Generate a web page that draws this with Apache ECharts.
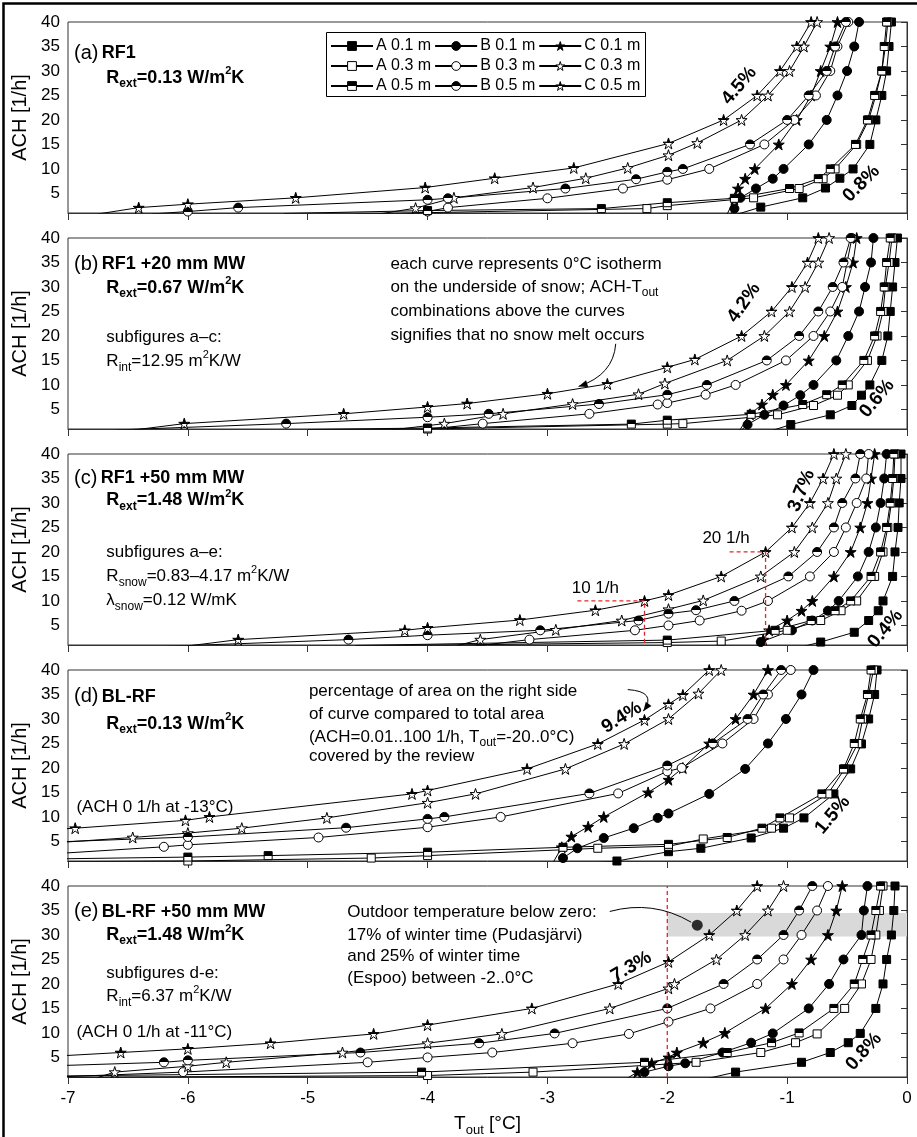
<!DOCTYPE html>
<html><head><meta charset="utf-8">
<script src="https://cdn.jsdelivr.net/npm/echarts@6/dist/echarts.min.js"></script>
<style>html,body{margin:0;padding:0;background:#fff}#c{width:917px;height:1137px}</style>
</head><body><div id="c"></div><script>
// ---------- axes ----------
const X_TICKS = [-7,-6,-5,-4,-3,-2,-1,0];
const Y_TICKS = [5,10,15,20,25,30,35,40];
const SERIES_KEYS = ['A01','B01','C01','A03','B03','C03','A05','B05','C05'];
const SERIES_NAMES = ['A 0.1 m','B 0.1 m','C 0.1 m','A 0.3 m','B 0.3 m','C 0.3 m','A 0.5 m','B 0.5 m','C 0.5 m'];

// ---------- panel (a) RF1 ----------  [T_out, ACH]
const a_A01 = [[-1.45,0.5],[-1.22,2.2],[-0.87,4.1],[-0.68,6.1],[-0.56,8.1],[-0.45,10],[-0.31,15],[-0.26,20],[-0.21,25],[-0.17,30],[-0.15,35],[-0.13,40]];
const a_A03 = [[-4.6,0.8],[-2.17,1.9],[-2.0,2.5],[-1.28,4.1],[-0.9,6.0],[-0.7,8.0],[-0.6,10],[-0.42,15],[-0.32,20],[-0.26,25],[-0.21,30],[-0.18,35],[-0.16,40]];
const a_A05 = [[-5.2,0.9],[-4.0,1.5],[-2.55,1.9],[-2.0,3.1],[-1.44,4.0],[-0.98,6],[-0.74,8],[-0.64,10],[-0.43,15],[-0.33,20],[-0.27,25],[-0.21,30],[-0.19,35],[-0.17,40]];
const a_B01 = [[-1.47,0.8],[-1.44,1.9],[-1.39,4.1],[-1.26,6.0],[-1.12,8.0],[-1.03,10],[-0.82,15],[-0.67,20],[-0.58,25],[-0.5,30],[-0.44,35],[-0.40,40]];
const a_B03 = [[-4.2,0.7],[-4.0,1.3],[-3.83,2.1],[-3.0,4.0],[-2.37,6.0],[-2.0,7.8],[-1.65,10],[-1.19,15],[-0.94,20],[-0.76,25],[-0.64,30],[-0.58,35],[-0.49,40]];
const a_B05 = [[-6.3,0.8],[-6.0,1.3],[-5.58,2.1],[-4.0,3.7],[-3.83,4.0],[-2.85,6.0],[-2.26,7.9],[-2.0,9.4],[-1.87,10],[-1.31,15],[-1.0,20],[-0.82,25],[-0.67,30],[-0.6,35],[-0.51,40]];
const a_C01 = [[-1.5,0.8],[-1.44,3.8],[-1.41,6],[-1.35,8],[-1.27,10],[-1.07,15],[-0.92,20],[-0.8,25],[-0.72,30],[-0.64,35],[-0.58,40]];
const a_C03 = [[-4.4,0.8],[-4.1,2.0],[-3.78,4.1],[-3.12,6.2],[-2.68,8.1],[-2.33,10.2],[-1.99,12.8],[-1.75,15.3],[-1.38,20],[-1.16,25],[-0.98,30],[-0.86,35],[-0.75,40]];
const a_C05 = [[-6.75,0.8],[-6.41,2.1],[-6.0,2.8],[-5.1,4.1],[-4.02,6.2],[-3.44,8.1],[-2.78,10.2],[-1.99,15.2],[-1.53,20],[-1.25,25],[-1.06,30],[-0.92,35],[-0.8,40]];

// ---------- panel (b) RF1 +20 mm MW ----------
const b_A01 = [[-1.15,0.5],[-0.97,1.9],[-0.64,3.9],[-0.46,5.8],[-0.38,7.9],[-0.31,10],[-0.21,15],[-0.16,20],[-0.14,25],[-0.12,30],[-0.1,35],[-0.08,40]];
const b_A03 = [[-5.0,0.8],[-4.0,1.0],[-2.0,2.0],[-1.87,2.1],[-1.08,3.9],[-0.78,5.8],[-0.58,7.9],[-0.49,10],[-0.33,15],[-0.25,20],[-0.2,25],[-0.18,30],[-0.15,35],[-0.125,40]];
const b_A05 = [[-5.0,0.9],[-4.0,1.2],[-2.3,2.0],[-2.0,2.8],[-1.3,4.0],[-0.87,6],[-0.67,8],[-0.54,10],[-0.36,15],[-0.27,20],[-0.22,25],[-0.19,30],[-0.17,35],[-0.14,40]];
const b_B01 = [[-1.38,0.8],[-1.33,1.9],[-1.19,3.9],[-1.03,5.8],[-0.89,7.9],[-0.78,10],[-0.59,15],[-0.49,20],[-0.4,25],[-0.35,30],[-0.3,35],[-0.28,40]];
const b_B03 = [[-4.1,0.7],[-3.54,2.1],[-2.65,4.1],[-2.08,6.0],[-2.0,6.3],[-1.68,8],[-1.43,10],[-1.01,15],[-0.78,20],[-0.64,25],[-0.54,30],[-0.5,35],[-0.46,40]];
const b_B05 = [[-6.6,0.8],[-5.18,2.1],[-4.0,3.4],[-3.49,4.1],[-2.57,6.1],[-2.0,8.0],[-1.67,10],[-1.17,15],[-0.9,20],[-0.74,25],[-0.62,30],[-0.53,35],[-0.47,40]];
const b_C01 = [[-1.4,0.6],[-1.31,4],[-1.21,6],[-1.12,8],[-1.01,10],[-0.82,15],[-0.69,20],[-0.58,25],[-0.51,30],[-0.45,35],[-0.42,40]];
const b_C03 = [[-4.3,0.8],[-3.86,2.1],[-3.37,4.1],[-2.79,6.1],[-2.24,8.1],[-2.02,10.3],[-1.5,15],[-1.19,20],[-0.98,25],[-0.85,30],[-0.74,35],[-0.65,40]];
const b_C05 = [[-6.45,0.8],[-6.03,2.1],[-4.7,4.1],[-4.0,5.5],[-3.67,6.2],[-3.0,8.2],[-2.5,10.2],[-2.0,13.6],[-1.77,15.2],[-1.38,20],[-1.13,25],[-0.96,30],[-0.83,35],[-0.74,40]];

// ---------- panel (c) RF1 +50 mm MW ----------
const c_A01 = [[-0.9,0.5],[-0.72,1.6],[-0.44,3.6],[-0.32,6],[-0.24,8],[-0.2,10],[-0.12,15],[-0.1,20],[-0.075,25],[-0.065,30],[-0.05,35],[-0.05,40]];
const c_A03 = [[-4.6,0.8],[-2.0,1.5],[-1.55,1.8],[-1.0,4.0],[-0.72,6],[-0.55,8],[-0.42,10],[-0.27,15],[-0.2,20],[-0.16,25],[-0.13,30],[-0.11,35],[-0.1,40]];
const c_A05 = [[-4.6,0.9],[-2.0,2.0],[-1.1,4.0],[-0.8,6],[-0.6,8],[-0.47,10],[-0.3,15],[-0.22,20],[-0.17,25],[-0.14,30],[-0.12,35],[-0.11,40]];
const c_B01 = [[-1.26,0.6],[-1.22,1.6],[-0.96,4],[-0.79,6],[-0.66,8],[-0.57,10],[-0.41,15],[-0.32,20],[-0.26,25],[-0.22,30],[-0.19,35],[-0.17,40]];
const c_B03 = [[-3.6,0.8],[-3.15,2.1],[-2.27,4.0],[-1.99,5.0],[-1.73,6.0],[-1.38,8],[-1.16,10],[-0.81,15],[-0.61,20],[-0.51,25],[-0.42,30],[-0.34,35],[-0.32,40]];
const c_B05 = [[-6.2,0.7],[-4.66,2.1],[-4.0,3.0],[-3.06,4.0],[-2.24,6.0],[-1.99,7.4],[-1.76,8.1],[-1.44,10],[-0.99,15],[-0.75,20],[-0.61,25],[-0.54,30],[-0.43,35],[-0.39,40]];
const c_C01 = [[-1.25,0.6],[-1.2,2.1],[-1.15,4.0],[-1.0,6.0],[-0.88,8.0],[-0.79,10],[-0.61,15],[-0.47,20],[-0.39,25],[-0.33,30],[-0.3,35],[-0.27,40]];
const c_C03 = [[-3.75,0.9],[-3.56,2.1],[-2.93,4.1],[-2.38,6.0],[-1.99,8.3],[-1.7,10.1],[-1.22,15],[-0.94,20],[-0.79,25],[-0.66,30],[-0.59,35],[-0.51,40]];
const c_C05 = [[-6.0,0.8],[-5.58,2.1],[-4.19,4.0],[-4.0,4.5],[-3.23,6.1],[-2.6,8.1],[-2.19,10],[-1.99,11.2],[-1.55,15],[-1.18,20],[-0.96,25],[-0.81,30],[-0.7,35],[-0.61,40]];
const c_ref10 = [[-2.75,10],[-2.19,10],[-2.19,1]];
const c_ref20 = [[-1.48,20],[-1.18,20],[-1.18,1]];

// ---------- panel (d) BL-RF ----------
const d_A01 = [[-2.7,0.5],[-2.42,1.0],[-1.99,2.9],[-1.72,3.6],[-1.3,5.7],[-1.03,7.7],[-0.86,9.8],[-0.61,14.7],[-0.47,19.8],[-0.38,24.9],[-0.32,30],[-0.27,35],[-0.25,40]];
const d_A03 = [[-7.5,0.8],[-6.0,1.0],[-4.47,1.6],[-4.0,2.1],[-2.58,3.6],[-1.99,4.0],[-1.7,5.5],[-1.13,7.7],[-0.98,9.8],[-0.66,14.7],[-0.52,19.8],[-0.41,25],[-0.37,30],[-0.32,35],[-0.28,40]];
const d_A05 = [[-7.5,1.3],[-6.0,1.8],[-5.33,2.1],[-4.0,2.8],[-2.87,3.8],[-1.99,4.4],[-1.5,5.8],[-1.21,7.7],[-1.06,9.8],[-0.71,14.7],[-0.53,19.8],[-0.44,25],[-0.39,30],[-0.33,35],[-0.3,40]];
const d_B01 = [[-2.92,0.6],[-2.87,1.6],[-2.75,3.6],[-2.53,5.7],[-2.28,7.7],[-2.08,9.8],[-1.99,10.7],[-1.65,14.7],[-1.35,19.8],[-1.16,25],[-1.01,30],[-0.88,35],[-0.78,40]];
const d_B03 = [[-7.3,2.2],[-6.2,3.9],[-6.0,4.3],[-4.91,5.8],[-4.0,7.9],[-3.39,10],[-2.41,14.8],[-2.0,19.3],[-1.88,20],[-1.54,25],[-1.28,30],[-1.16,35],[-0.97,40]];
const d_B05 = [[-7.3,4.7],[-6.0,5.9],[-4.68,7.8],[-4.0,9.6],[-3.86,10],[-2.65,14.8],[-2.0,20.5],[-1.62,25],[-1.33,30],[-1.2,35],[-1.05,40]];
const d_C01 = [[-2.95,0.8],[-2.88,3.8],[-2.8,6],[-2.66,8],[-2.53,10],[-2.16,15],[-1.99,17.6],[-1.87,20],[-1.65,25],[-1.43,30],[-1.28,35],[-1.16,40]];
const d_C03 = [[-7.3,4.4],[-6.46,5.8],[-6.0,6.7],[-5.55,7.7],[-4.84,9.8],[-4.0,12.9],[-3.6,14.7],[-2.85,19.8],[-2.36,24.9],[-1.99,30],[-1.74,35.2],[-1.55,40]];
const d_C05 = [[-13,0],[-6.94,7.7],[-6.02,9.3],[-5.82,10],[-4.13,14.7],[-4.0,15.4],[-3.17,19.8],[-2.58,24.9],[-2.19,29.8],[-1.99,33.0],[-1.87,34.9],[-1.65,40]];

// ---------- panel (e) BL-RF +50 mm MW ----------
const e_A01 = [[-1.7,0.5],[-1.43,2.0],[-0.88,4.0],[-0.64,6.0],[-0.49,8.0],[-0.39,9.9],[-0.26,15],[-0.2,20],[-0.17,25],[-0.13,30],[-0.11,35],[-0.1,40]];
const e_A03 = [[-7.5,0.85],[-4.0,1.3],[-3.12,2.0],[-1.76,4.0],[-1.22,6.0],[-0.93,8.0],[-0.75,9.8],[-0.52,15],[-0.38,20],[-0.3,25],[-0.26,30],[-0.23,35],[-0.2,40]];
const e_A05 = [[-7.5,1.1],[-4.05,2.0],[-2.19,4.0],[-1.5,6.0],[-1.13,8.0],[-0.9,10],[-0.61,15],[-0.44,20],[-0.37,25],[-0.3,30],[-0.26,35],[-0.22,40]];
const e_B01 = [[-2.25,0.6],[-2.19,2.0],[-1.99,3.2],[-1.85,3.8],[-1.54,6.0],[-1.3,8.0],[-1.12,9.9],[-0.82,15],[-0.65,20],[-0.53,25],[-0.38,30],[-0.36,35],[-0.33,40]];
const e_B03 = [[-7.2,0.9],[-6.04,2.0],[-4.5,4.0],[-4.0,5.0],[-3.46,6.0],[-2.79,7.9],[-2.32,9.8],[-1.99,12.3],[-1.64,15],[-1.25,20],[-1.03,25],[-0.88,30],[-0.75,35],[-0.66,40]];
const e_B05 = [[-7.5,3.0],[-6.2,4.0],[-6.0,4.4],[-4.56,6.0],[-3.57,7.9],[-2.94,9.9],[-2.0,15.0],[-1.53,20],[-1.25,25],[-1.03,30],[-0.9,35],[-0.79,40]];
const e_C01 = [[-2.35,0.5],[-2.25,2.0],[-2.13,3.8],[-1.99,5.0],[-1.92,6.0],[-1.7,8.0],[-1.52,10],[-1.18,15],[-0.96,20],[-0.8,25],[-0.66,30],[-0.59,35],[-0.54,40]];
const e_C03 = [[-6.8,0.5],[-6.61,2.0],[-6.0,3.2],[-5.68,4.0],[-4.71,6.0],[-4.0,7.9],[-3.38,9.8],[-2.48,15],[-1.99,19.1],[-1.94,20],[-1.59,25],[-1.35,30],[-1.16,35],[-1.03,40]];
const e_C05 = [[-11,0],[-6.56,6.0],[-6.0,6.75],[-5.31,7.9],[-4.45,9.8],[-4.0,11.6],[-3.13,15],[-2.41,20],[-1.99,24.5],[-1.65,30],[-1.42,35],[-1.25,40]];
const e_refT = [[-2,1],[-2,40]];
const e_band = [[-2,29.7],[0,34.5]];
const e_dot = [[-1.75,32]];

// percentage labels [panel, T, ACH, text, rotation]
const PCT = [
  [0,-1.40,27.0,'4.5%',50],[0,-0.38,7.0,'0.8%',45],
  [1,-1.36,26.8,'4.2%',55],[1,-0.25,7.2,'0.6%',50],
  [2,-0.88,32.5,'3.7%',68],[2,-0.18,4.3,'0.4%',50],
  [3,-2.38,30.3,'9.4%',32],[3,-0.62,10.4,'1.5%',50],
  [4,-2.30,23.5,'7.3%',30],[4,-0.36,6.2,'0.8%',48]
];

const PANELS = [
  {A01:a_A01,A03:a_A03,A05:a_A05,B01:a_B01,B03:a_B03,B05:a_B05,C01:a_C01,C03:a_C03,C05:a_C05},
  {A01:b_A01,A03:b_A03,A05:b_A05,B01:b_B01,B03:b_B03,B05:b_B05,C01:b_C01,C03:b_C03,C05:b_C05},
  {A01:c_A01,A03:c_A03,A05:c_A05,B01:c_B01,B03:c_B03,B05:c_B05,C01:c_C01,C03:c_C03,C05:c_C05},
  {A01:d_A01,A03:d_A03,A05:d_A05,B01:d_B01,B03:d_B03,B05:d_B05,C01:d_C01,C03:d_C03,C05:d_C05},
  {A01:e_A01,A03:e_A03,A05:e_A05,B01:e_B01,B03:e_B03,B05:e_B05,C01:e_C01,C03:e_C03,C05:e_C05}
];

// ---------- styles ----------
const FONT = "'Liberation Sans', Arial, Helvetica, sans-serif";
const STAR = 'path://M0,-10L2.245,-3.09L9.51,-3.09L3.633,1.18L5.88,8.09L0,3.82L-5.88,8.09L-3.633,1.18L-9.51,-3.09L-2.245,-3.09Z';
const HALF = {type:'linear',x:0,y:0,x2:0,y2:1,colorStops:[{offset:0,color:'#000'},{offset:0.5,color:'#000'},{offset:0.5,color:'#fff'},{offset:1,color:'#fff'}]};
const STYLE = {
  A01:{symbol:'rect',size:8,color:'#000'}, A03:{symbol:'rect',size:8,color:'#fff'}, A05:{symbol:'rect',size:8,color:HALF},
  B01:{symbol:'circle',size:9,color:'#000'}, B03:{symbol:'circle',size:9,color:'#fff'}, B05:{symbol:'circle',size:9,color:HALF},
  C01:{symbol:STAR,size:11,color:'#000'}, C03:{symbol:STAR,size:11,color:'#fff'}, C05:{symbol:STAR,size:11,color:HALF}
};
const GTOP = 22, GSTEP = 216, GH = 191;

const grids=[], xAxes=[], yAxes=[], series=[];
for (let i=0;i<5;i++){
  grids.push({left:68,right:10,top:GTOP+GSTEP*i,height:GH,show:true,borderColor:'#333',borderWidth:1});
  xAxes.push({type:'value',gridIndex:i,min:X_TICKS[0],max:X_TICKS[X_TICKS.length-1],interval:1,
    axisLine:{show:true,onZero:false,lineStyle:{color:'#333',width:1}},
    axisTick:{show:true,length:7,lineStyle:{color:'#333'}},
    axisLabel:{show:i===4,fontSize:17,color:'#000',margin:13,fontFamily:FONT},
    splitLine:{show:false}});
  yAxes.push({type:'value',gridIndex:i,min:1,max:40,
    axisLine:{show:true,lineStyle:{color:'#333',width:1}},
    axisTick:{show:true,length:6,customValues:Y_TICKS,lineStyle:{color:'#333'}},
    axisLabel:{customValues:Y_TICKS,fontSize:17,color:'#000',margin:8,fontFamily:FONT},
    splitLine:{show:false},
    name:'ACH [1/h]',nameLocation:'middle',nameGap:37,nameTextStyle:{fontSize:20,color:'#000',fontFamily:FONT}});
}
PANELS.forEach((pd,i)=>{
  SERIES_KEYS.forEach((k,j)=>{
    const st = STYLE[k];
    series.push({type:'line',name:SERIES_NAMES[j],xAxisIndex:i,yAxisIndex:i,
      data:pd[k].map(p => (p[1] < 1 || p[0] < -7) ? {value:p,symbol:'none'} : {value:p}),
      symbol:st.symbol,symbolSize:st.size,showAllSymbol:true,clip:true,z:3,
      lineStyle:{color:'#000',width:1},
      itemStyle:{color:st.color,borderColor:'#000',borderWidth:1},
      emphasis:{disabled:true},animation:false});
  });
});
// red dashed guides
[[2,c_ref10],[2,c_ref20],[4,e_refT]].forEach(([i,d])=>{
  series.push({type:'line',xAxisIndex:i,yAxisIndex:i,data:d,symbol:'none',z:5,silent:true,
    lineStyle:{color:'#e3262c',width:1.3,type:[4,3]},animation:false});
});
// grey band (panel e)
series.push({type:'line',xAxisIndex:4,yAxisIndex:4,data:e_band,symbol:'none',z:1,silent:true,
  lineStyle:{opacity:0},animation:false,
  markArea:{silent:true,itemStyle:{color:'#d9d9d9'},data:[[{coord:e_band[0]},{coord:e_band[1]}]]}});
// annotation dot
series.push({type:'scatter',xAxisIndex:4,yAxisIndex:4,data:e_dot,symbol:'circle',symbolSize:11,z:6,silent:true,
  itemStyle:{color:'#000'},animation:false});

const LEG_ITEM = {
  'A 0.1 m':{color:'#000'},'B 0.1 m':{color:'#000'},'C 0.1 m':{color:'#000'},
  'A 0.3 m':{color:'#fff'},'B 0.3 m':{color:'#fff'},'C 0.3 m':{color:'#fff'},
  'A 0.5 m':{color:HALF},'B 0.5 m':{color:HALF},'C 0.5 m':{color:HALF}
};
const legendRow = (names, top) => ({top:top,left:330,selectedMode:false,orient:'horizontal',
  data:names.map(n=>({name:n,itemStyle:{color:LEG_ITEM[n].color,borderColor:'#000',borderWidth:1}})),
  itemWidth:42,itemHeight:11,itemGap:3,padding:0,textStyle:{fontSize:16,color:'#000',fontFamily:FONT,padding:[0,0,0,-2]}});

const chart = echarts.init(document.getElementById('c'),null,{renderer:'canvas'});
chart.setOption({
  animation:false,backgroundColor:'#fff',
  grid:grids,xAxis:xAxes,yAxis:yAxes,series:series,
  legend:[legendRow(SERIES_NAMES.slice(0,3),38),legendRow(SERIES_NAMES.slice(3,6),58),legendRow(SERIES_NAMES.slice(6,9),78)]
});

// ---------- text & annotations ----------
const RICH = {
  p:{fontSize:20,fontFamily:FONT,color:'#000',lineHeight:24},
  b:{fontSize:18,fontWeight:'bold',fontFamily:FONT,color:'#000',lineHeight:24},
  bs:{fontSize:12,fontWeight:'bold',fontFamily:FONT,color:'#000',verticalAlign:'bottom',lineHeight:13},
  bp:{fontSize:11,fontWeight:'bold',fontFamily:FONT,color:'#000',verticalAlign:'top',lineHeight:12},
  n:{fontSize:17,fontFamily:FONT,color:'#000',lineHeight:24},
  s:{fontSize:12,fontFamily:FONT,color:'#000',verticalAlign:'bottom',lineHeight:13},
  sp:{fontSize:11,fontFamily:FONT,color:'#000',verticalAlign:'top',lineHeight:12}
};
const TEXTS = [
  [0,-6.95,33.6,'{p|(a)} {b|RF1}','left'],
  [0,-6.68,28.6,'{b|R}{bs|ext}{b|=0.13 W/m}{bp|2}{b|K}','left'],
  [1,-6.95,34.6,'{p|(b)} {b|RF1 +20 mm MW}','left'],
  [1,-6.68,29.8,'{b|R}{bs|ext}{b|=0.67 W/m}{bp|2}{b|K}','left'],
  [1,-6.68,19.7,'{n|subfigures a–c:}','left'],
  [1,-6.68,14.8,'{n|R}{s|int}{n|=12.95 m}{sp|2}{n|K/W}','left'],
  [1,-4.31,34.6,'{n|each curve represents 0°C isotherm}','left'],
  [1,-4.31,30.0,'{n|on the underside of snow; ACH-T}{s|out}','left'],
  [1,-4.31,25.0,'{n|combinations above the curves}','left'],
  [1,-4.31,20.1,'{n|signifies that no snow melt occurs}','left'],
  [2,-6.95,35.1,'{p|(c)} {b|RF1 +50 mm MW}','left'],
  [2,-6.68,30.5,'{b|R}{bs|ext}{b|=1.48 W/m}{bp|2}{b|K}','left'],
  [2,-6.68,20.0,'{n|subfigures a–e:}','left'],
  [2,-6.68,15.0,'{n|R}{s|snow}{n|=0.83–4.17 m}{sp|2}{n|K/W}','left'],
  [2,-6.68,10.1,'{n|λ}{s|snow}{n|=0.12 W/mK}','left'],
  [2,-2.60,12.6,'{n|10 1/h}','center'],
  [2,-1.51,22.7,'{n|20 1/h}','center'],
  [3,-6.95,34.5,'{p|(d)} {b|BL-RF}','left'],
  [3,-6.68,29.0,'{b|R}{bs|ext}{b|=0.13 W/m}{bp|2}{b|K}','left'],
  [3,-6.93,11.9,'{n|(ACH 0 1/h at -13°C)}','left'],
  [3,-4.99,35.7,'{n|percentage of area on the right side}','left'],
  [3,-4.99,30.9,'{n|of curve compared to total area}','left'],
  [3,-4.99,26.3,'{n|(ACH=0.01..100 1/h, T}{s|out}{n|=-20..0°C)}','left'],
  [3,-4.99,22.3,'{n|covered by the review}','left'],
  [4,-6.95,34.7,'{p|(e)} {b|BL-RF +50 mm MW}','left'],
  [4,-6.68,30.0,'{b|R}{bs|ext}{b|=1.48 W/m}{bp|2}{b|K}','left'],
  [4,-6.68,22.2,'{n|subfigures d-e:}','left'],
  [4,-6.68,17.4,'{n|R}{s|int}{n|=6.37 m}{sp|2}{n|K/W}','left'],
  [4,-6.93,10.1,'{n|(ACH 0 1/h at -11°C)}','left'],
  [4,-4.67,34.6,'{n|Outdoor temperature below zero:}','left'],
  [4,-4.67,30.0,'{n|17% of winter time (Pudasjärvi)}','left'],
  [4,-4.67,25.7,'{n|and 25% of winter time}','left'],
  [4,-4.67,21.1,'{n|(Espoo) between -2..0°C}','left']
];
// curved arrows [panel, start, control, end, arrowhead?]
const ARROWS = [
  [1,[-2.43,18.4],[-2.45,12.0],[-2.74,9.7],true],
  [3,[-2.33,36.0],[-2.08,35.6],[-2.2,31.6],true],
  [4,[-2.48,34.8],[-2.12,37.2],[-1.80,32.6],false]
];
const px = (i,p) => chart.convertToPixel({gridIndex:i},p);
const graphics = [];
TEXTS.forEach(([i,T,A,txt,al])=>{
  const q = px(i,[T,A]);
  graphics.push({type:'text',x:q[0],y:q[1],z:20,silent:true,style:{text:txt,rich:RICH,align:al,verticalAlign:'middle'}});
});
PCT.forEach(([i,T,A,txt,rot])=>{
  const q = px(i,[T,A]);
  graphics.push({type:'text',x:q[0],y:q[1],rotation:rot*Math.PI/180,z:20,silent:true,
    style:{text:txt,fill:'#000',font:'bold 19px '+FONT,align:'center',verticalAlign:'middle'}});
});
ARROWS.forEach(([i,s,c,e,head])=>{
  const S=px(i,s),C=px(i,c),E=px(i,e);
  graphics.push({type:'bezierCurve',z:20,silent:true,shape:{x1:S[0],y1:S[1],cpx1:C[0],cpy1:C[1],x2:E[0],y2:E[1]},style:{stroke:'#000',lineWidth:1,fill:null}});
  if (head){
    const dx=E[0]-C[0], dy=E[1]-C[1], L=Math.hypot(dx,dy), ux=dx/L, uy=dy/L, h=9, w=3.5;
    graphics.push({type:'polygon',z:20,silent:true,shape:{points:[[E[0],E[1]],[E[0]-ux*h-uy*w,E[1]-uy*h+ux*w],[E[0]-ux*h+uy*w,E[1]-uy*h-ux*w]]},style:{fill:'#000'}});
  }
});
// legend frame
graphics.push({type:'rect',z:0,silent:true,shape:{x:326.5,y:32.5,width:319,height:64},style:{fill:'#fff',stroke:'#000',lineWidth:1}});
// x axis title
const xc = px(4,[-3.5,1]);
graphics.push({type:'text',x:xc[0],y:1124,z:20,silent:true,style:{text:'{t|T}{ts|out}{t| [°C]}',rich:{t:{fontSize:19,fontFamily:FONT,color:'#000',lineHeight:26},ts:{fontSize:13,fontFamily:FONT,color:'#000',verticalAlign:'bottom',lineHeight:14}},align:'center',verticalAlign:'middle'}});
// outer frame
graphics.push({type:'polyline',z:20,silent:true,shape:{points:[[3.5,1137],[3.5,3.5],[917,3.5]]},style:{stroke:'#000',lineWidth:2.5,fill:null}});
chart.setOption({graphic:graphics});
</script></body></html>
